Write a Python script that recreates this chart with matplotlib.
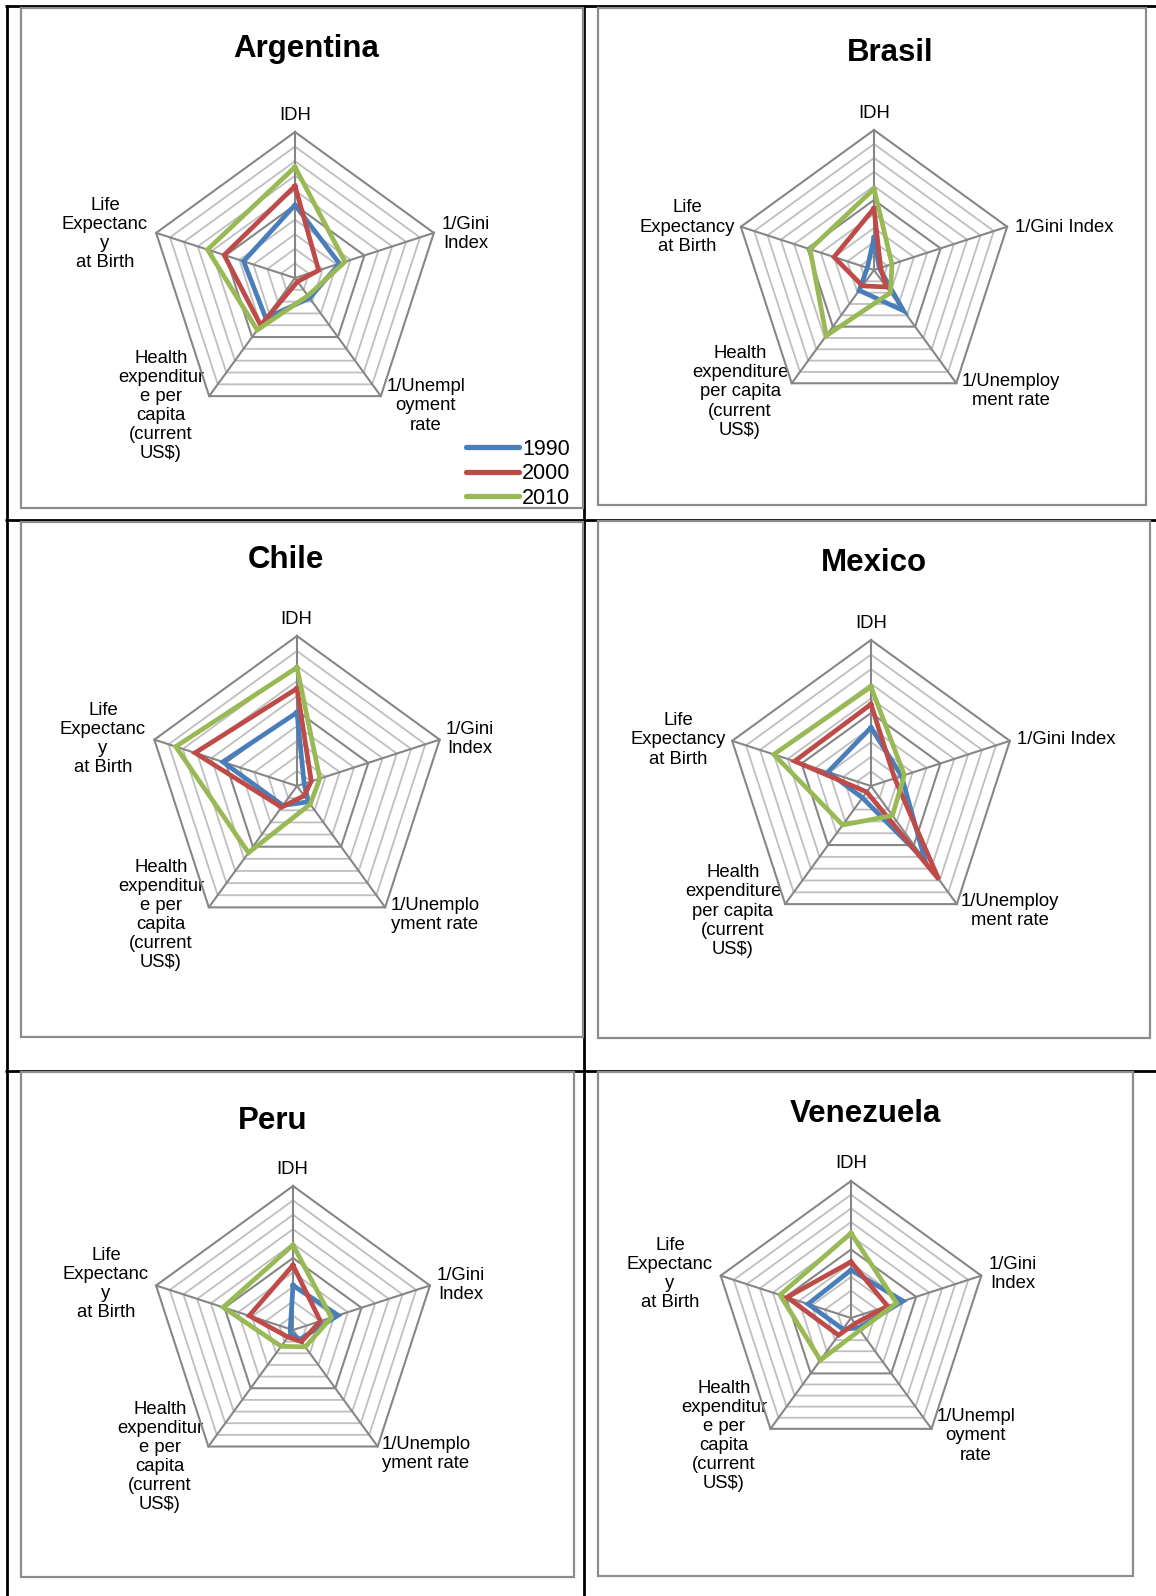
import numpy as np
import matplotlib
matplotlib.use("Agg")
import matplotlib.pyplot as plt
from matplotlib.lines import Line2D

plt.rcParams['font.family'] = ['Liberation Sans', 'DejaVu Sans']

# ---------------- data ----------------
categories = ["IDH", "1/Gini Index", "1/Unemployment rate",
              "Health expenditure per capita (current US$)",
              "Life Expectancy at Birth"]
years = ["1990", "2000", "2010"]

countries = ["Argentina", "Brasil", "Chile", "Mexico", "Peru", "Venezuela"]

# values order: IDH, 1/Gini, 1/Unemployment, Health exp., Life expectancy
argentina_1990 = [0.50, 0.32, 0.17, 0.34, 0.37]
argentina_2000 = [0.63, 0.17, 0.03, 0.40, 0.51]
argentina_2010 = [0.76, 0.36, 0.15, 0.44, 0.63]

brasil_1990 = [0.23, 0.04, 0.36, 0.18, 0.05]
brasil_2000 = [0.44, 0.05, 0.15, 0.14, 0.30]
brasil_2010 = [0.58, 0.135, 0.20, 0.58, 0.48]

chile_1990 = [0.49, 0.05, 0.13, 0.16, 0.52]
chile_2000 = [0.65, 0.10, 0.08, 0.175, 0.715]
chile_2010 = [0.79, 0.16, 0.15, 0.55, 0.85]

mexico_1990 = [0.40, 0.22, 0.63, 0.10, 0.31]
mexico_2000 = [0.56, 0.17, 0.79, 0.05, 0.55]
mexico_2010 = [0.68, 0.24, 0.25, 0.33, 0.70]

peru_1990 = [0.31, 0.33, 0.08, 0.03, 0.02]
peru_2000 = [0.45, 0.20, 0.10, 0.06, 0.32]
peru_2010 = [0.59, 0.28, 0.145, 0.14, 0.51]

venezuela_1990 = [0.35, 0.40, 0.09, 0.10, 0.33]
venezuela_2000 = [0.41, 0.28, 0.05, 0.155, 0.49]
venezuela_2010 = [0.62, 0.35, 0.11, 0.38, 0.545]

series = {
    "Argentina": [argentina_1990, argentina_2000, argentina_2010],
    "Brasil": [brasil_1990, brasil_2000, brasil_2010],
    "Chile": [chile_1990, chile_2000, chile_2010],
    "Mexico": [mexico_1990, mexico_2000, mexico_2010],
    "Peru": [peru_1990, peru_2000, peru_2010],
    "Venezuela": [venezuela_1990, venezuela_2000, venezuela_2010],
}

# axis labels as wrapped in each chart
labels_wrap_a = ["IDH", "1/Gini\nIndex", "1/Unempl\noyment\nrate",
                 "Health\nexpenditur\ne per\ncapita\n(current\nUS$)",
                 "Life\nExpectanc\ny\nat Birth"]
labels_wrap_b = ["IDH", "1/Gini Index", "1/Unemploy\nment rate",
                 "Health\nexpenditure\nper capita\n(current\nUS$)",
                 "Life\nExpectancy\nat Birth"]
labels_wrap_c = ["IDH", "1/Gini\nIndex", "1/Unemplo\nyment rate",
                 "Health\nexpenditur\ne per\ncapita\n(current\nUS$)",
                 "Life\nExpectanc\ny\nat Birth"]
chart_labels = {
    "Argentina": labels_wrap_a, "Brasil": labels_wrap_b, "Chile": labels_wrap_c,
    "Mexico": labels_wrap_b, "Peru": labels_wrap_c, "Venezuela": labels_wrap_a,
}

# ---------------- layout (pixels) ----------------
W, H = 1156, 1596
layout = {
    "Argentina": dict(c=(295, 278), r=146, title=(306, 49),
                      lab=[(295, 116), (466, 234), (426, 406), (161, 406), (105, 234)],
                      frame=(21, 8, 583, 508)),
    "Brasil": dict(c=(874, 270), r=140, title=(890, 53),
                   lab=[(874, 114), (1064, 227), (1011, 391), (740, 392), (687, 227)],
                   frame=(598, 8, 1146, 505)),
    "Chile": dict(c=(297, 786), r=150, title=(286, 560),
                  lab=[(296, 619), (470, 739), (435, 915), (161, 915), (103, 739)],
                  frame=(21, 522, 583, 1037)),
    "Mexico": dict(c=(871, 786), r=146, title=(874, 563),
                   lab=[(871, 624), (1066, 740), (1010, 911), (733, 911), (678, 740)],
                   frame=(598, 521, 1150, 1038)),
    "Peru": dict(c=(293, 1330), r=144, title=(273, 1121),
                 lab=[(292, 1170), (461, 1285), (426, 1454), (160, 1457), (106, 1284)],
                 frame=(21, 1072, 574, 1577)),
    "Venezuela": dict(c=(851, 1318), r=137, title=(865, 1114),
                      lab=[(851, 1163), (1013, 1274), (976, 1436), (724, 1436), (670, 1274)],
                      frame=(598, 1072, 1133, 1576)),
}

colors = ["#4A7EBB", "#BE4B48", "#98B954"]
light_grid = "#BFBFBF"
dark_grid = "#868686"

fig = plt.figure(figsize=(W / 100, H / 100), dpi=100)
fig.patch.set_facecolor("white")

ov = fig.add_axes([0, 0, 1, 1], zorder=0)
ov.set_xlim(0, W)
ov.set_ylim(H, 0)
ov.axis("off")

tl = dict(color="black", lw=2.0, solid_capstyle="butt", zorder=1)
ov.plot([7, 7], [5, H], **tl)
ov.plot([5, W], [6, 6], **tl)
ov.plot([5, W], [520, 520], **tl)
ov.plot([5, W], [1071, 1071], **tl)
ov.plot([584, 584], [5, H], **tl)

angles = np.deg2rad(90 - 72 * np.arange(5))
rings = np.arange(1, 11) / 10.0

for name in countries:
    L = layout[name]
    cx, cy = L["c"]
    R = L["r"]
    x0, y0, x1, y1 = L["frame"]
    ov.plot([x0, x1, x1, x0, x0], [y0, y0, y1, y1, y0], color="#8C8C8C",
            lw=1.6, zorder=2, solid_joinstyle="miter")
    ov.text(L["title"][0], L["title"][1], name, ha="center", va="center",
            fontsize=22.5, fontweight="bold", zorder=3)
    for (lx, ly), txt in zip(L["lab"], chart_labels[name]):
        ov.text(lx, ly, txt, ha="center", va="center", fontsize=13.3,
                linespacing=1.16, multialignment="center", zorder=3)

    m = 1.05
    ax = fig.add_axes([(cx - m * R) / W, 1 - (cy + m * R) / H,
                       2 * m * R / W, 2 * m * R / H], zorder=5)
    ax.set_xlim(-m, m)
    ax.set_ylim(-m, m)
    ax.axis("off")
    ax.patch.set_alpha(0)

    ca = np.append(np.cos(angles), np.cos(angles[0]))
    sa = np.append(np.sin(angles), np.sin(angles[0]))
    for rr in rings:
        dark = abs(rr - 0.5) < 1e-9 or abs(rr - 1.0) < 1e-9
        ax.plot(rr * ca, rr * sa, color=dark_grid if dark else light_grid,
                lw=1.5 if dark else 1.3, zorder=2 if dark else 1)
    for a in angles:
        ax.plot([0, np.cos(a)], [0, np.sin(a)], color=dark_grid, lw=1.5, zorder=2)

    handles = []
    for vals, col, yr in zip(series[name], colors, years):
        v = np.append(np.array(vals), vals[0])
        ax.plot(v * ca, v * sa, color=col, lw=3.4, zorder=3,
                solid_joinstyle="miter", label=yr)
        handles.append(Line2D([], [], color=col, lw=3.8, solid_capstyle="round", label=yr))

    if name == "Argentina":
        ax.legend(handles=handles, loc="upper left",
                  bbox_to_anchor=(466 / W, 1 - 439 / H), bbox_transform=fig.transFigure,
                  frameon=False, fontsize=15.5, handlelength=2.45, handletextpad=0.15,
                  labelspacing=0.16, borderpad=0, borderaxespad=0)

fig.savefig("out.png", dpi=100, facecolor="white")
